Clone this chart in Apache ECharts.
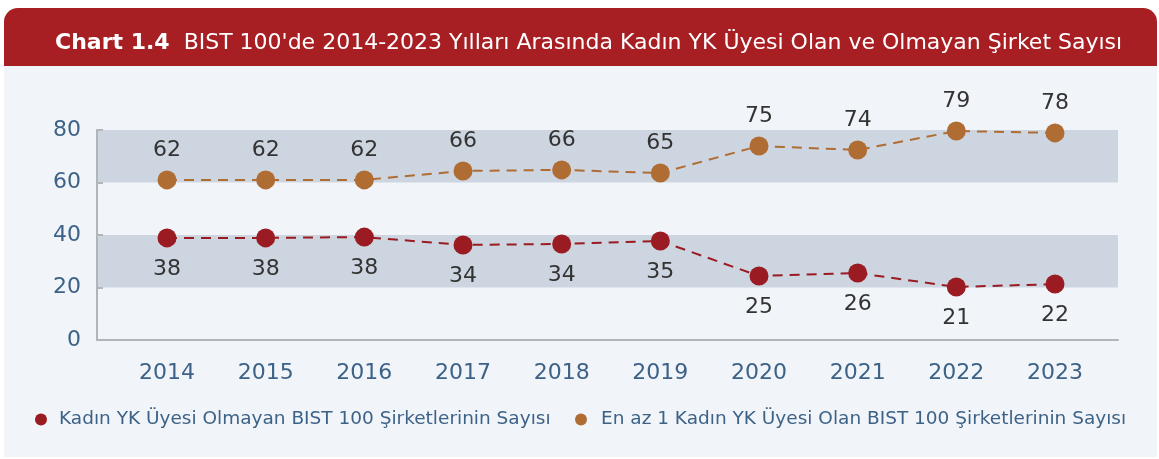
<!DOCTYPE html>
<html lang="tr">
<head>
<meta charset="UTF-8" />
<title>Chart 1.4</title>
<script src="https://cdn.jsdelivr.net/npm/echarts@6/dist/echarts.min.js"></script>
<style>
  body{margin:0;padding:0;background:#fff;}
  #main{width:1159px;height:459px;}
</style>
</head>
<body>
<div id="main"></div>
<script>
// yillar
var years = ['2014','2015','2016','2017','2018','2019','2020','2021','2022','2023'];
// noktalarin grafikteki konumu
var olmayanPos = [38.9, 38.9, 39.2, 36.2, 36.6, 37.7, 24.4, 25.5, 20.2, 21.3];
var olanPos = [61.0, 61.0, 61.0, 64.4, 64.8, 63.6, 73.9, 72.4, 79.6, 78.9];
// etiketlerde yazan sayilar
var olmayanLbl = [38, 38, 38, 34, 34, 35, 25, 26, 21, 22];
var olanLbl = [62, 62, 62, 66, 66, 65, 75, 74, 79, 78];
var yTicks = [0, 20, 40, 60, 80];

var nameOlmayan = 'Kadın YK Üyesi Olmayan BIST 100 Şirketlerinin Sayısı';
var nameOlan = 'En az 1 Kadın YK Üyesi Olan BIST 100 Şirketlerinin Sayısı';

var FONT = 'DejaVu Sans';
var RED = '#9a1b22', ORANGE = '#b06d33', BLUE = '#3d6287';

var chart = echarts.init(document.getElementById('main'));

function pts(pos, lbl) {
  return pos.map(function (v, i) { return { value: v, lbl: lbl[i] }; });
}

var option = {
  animation: false,
  textStyle: { fontFamily: FONT },
  graphic: [
    { type: 'rect', z: -10, shape: { x: 4, y: 66, width: 1153, height: 391 }, style: { fill: '#f1f5f9' } },
    { type: 'rect', z: -10, shape: { x: 4, y: 8, width: 1153, height: 58, r: [14, 14, 0, 0] }, style: { fill: '#a71e23' } }
  ],
  title: {
    left: 50, top: 27,
    text: '{b|Chart 1.4}  BIST 100\'de 2014-2023 Yılları Arasında Kadın YK Üyesi Olan ve Olmayan Şirket Sayısı',
    textStyle: {
      color: '#fff', fontSize: 22, fontWeight: 'normal', fontFamily: FONT,
      rich: { b: { color: '#fff', fontSize: 22, fontWeight: 'bold', fontFamily: FONT } }
    }
  },
  legend: [
    {
      left: 30, top: 405, icon: 'circle', itemWidth: 12, itemHeight: 12,
      data: [nameOlmayan],
      textStyle: { color: BLUE, fontSize: 18.5, fontFamily: FONT, padding: [0, 0, 0, 7] }
    },
    {
      left: 570, top: 405, icon: 'circle', itemWidth: 12, itemHeight: 12,
      data: [nameOlan],
      textStyle: { color: BLUE, fontSize: 18.5, fontFamily: FONT, padding: [0, 0, 0, 9] }
    }
  ],
  grid: [
    { left: 97, right: 41, top: 130, bottom: 119 },
    { left: 167, right: 104, top: 130, bottom: 119 }
  ],
  xAxis: [
    {
      type: 'value', gridIndex: 0, min: 0, max: 1,
      axisLine: { show: true, lineStyle: { color: '#b1b4b8', width: 2 } },
      axisTick: { show: false }, axisLabel: { show: false }, splitLine: { show: false }
    },
    {
      type: 'category', gridIndex: 1, data: years, boundaryGap: false,
      axisLine: { show: false }, axisTick: { show: false },
      axisLabel: { color: BLUE, fontSize: 22, margin: 22, fontFamily: FONT }
    }
  ],
  yAxis: [
    {
      type: 'value', gridIndex: 0, min: 0, max: 80, interval: 20,
      axisLine: { show: true, lineStyle: { color: '#b1b4b8', width: 2 } },
      axisTick: { show: true, inside: true, length: 6, lineStyle: { color: '#b1b4b8', width: 2 } },
      axisLabel: { color: BLUE, fontSize: 22, margin: 16, fontFamily: FONT,
        formatter: function (v) { return yTicks.indexOf(v) >= 0 ? String(v) : ''; } },
      splitLine: { show: false },
      splitArea: { show: true, areaStyle: { color: ['rgba(0,0,0,0)', '#cdd5e0'] } }
    },
    {
      type: 'value', gridIndex: 1, min: 0, max: 80, interval: 20, show: false,
      splitLine: { show: false }
    }
  ],
  series: [
    {
      name: nameOlmayan, type: 'line', xAxisIndex: 1, yAxisIndex: 1,
      data: pts(olmayanPos, olmayanLbl),
      symbol: 'circle', symbolSize: 19,
      itemStyle: { color: RED },
      lineStyle: { color: RED, width: 2, type: [10, 7] },
      label: {
        show: true, position: 'bottom', distance: 11, color: '#333', fontSize: 22, fontFamily: FONT,
        formatter: function (p) { return p.data.lbl; }
      }
    },
    {
      name: nameOlan, type: 'line', xAxisIndex: 1, yAxisIndex: 1,
      data: pts(olanPos, olanLbl),
      symbol: 'circle', symbolSize: 19,
      itemStyle: { color: ORANGE },
      lineStyle: { color: ORANGE, width: 2, type: [10, 7] },
      label: {
        show: true, position: 'top', distance: 9, color: '#333', fontSize: 22, fontFamily: FONT,
        formatter: function (p) { return p.data.lbl; }
      }
    }
  ]
};

chart.setOption(option);
</script>
</body>
</html>
